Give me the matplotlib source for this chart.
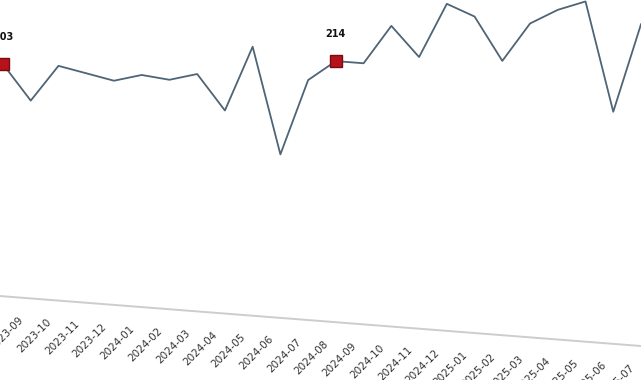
import matplotlib
matplotlib.use('Agg')
import matplotlib.pyplot as plt
from matplotlib.transforms import Affine2D, ScaledTranslation

# monthly values
months = ['2023-09', '2023-10', '2023-11', '2023-12',
          '2024-01', '2024-02', '2024-03', '2024-04', '2024-05', '2024-06',
          '2024-07', '2024-08', '2024-09', '2024-10', '2024-11', '2024-12',
          '2025-01', '2025-02', '2025-03', '2025-04', '2025-05', '2025-06',
          '2025-07', '2025-08']
values = [203, 190, 204, 202, 200, 203, 202, 205, 192, 217, 177, 206,
          214, 214, 229, 218, 239, 235, 219, 234, 240, 244, 203, 237]
marked = [0, 12]

fig = plt.figure(figsize=(6.41, 3.8), dpi=100)
ax = fig.add_axes([0, 0.221, 1, 0.937])
ax.set_xlim(-0.108, 23.0)
ax.set_ylim(115, 250)
ax.axis('off')

# the source is a slightly tilted photo of the chart
tilt = Affine2D().skew_deg(0, -4.46)
trans = ax.transData + tilt

xmin, xmax = ax.get_xlim()
ax.plot([xmin, xmax + 1], [115, 115], color='#cdcdcd', lw=1.4,
        transform=trans, clip_on=False)
ax.plot(range(len(values)), values, color='#4f6475', lw=1.3,
        transform=trans, clip_on=False, zorder=2)
ax.plot(marked, [values[i] for i in marked], 's', ms=9,
        mfc='#b5121b', mec='#7a0a10', transform=trans, clip_on=False, zorder=3)

lab_off = trans + ScaledTranslation(0, 0.27, fig.dpi_scale_trans)
for i in marked:
    ax.text(i, values[i], str(values[i]), transform=lab_off,
            ha='center', va='center', fontsize=7, fontweight='bold', color='#111')

tick_off = trans + ScaledTranslation(0.19, -0.22, fig.dpi_scale_trans)
for i, m in enumerate(months):
    ax.text(i, 115, m, transform=tick_off, rotation=45, rotation_mode='anchor',
            ha='right', va='center', fontsize=7.5, color='#333333')

fig.savefig('out.png', dpi=100)
